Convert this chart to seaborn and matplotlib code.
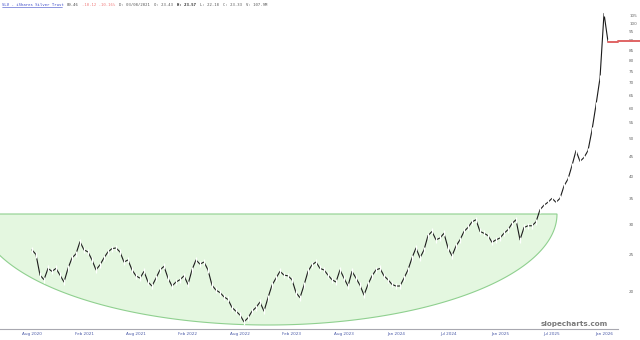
import numpy as np
import pandas as pd
import matplotlib
matplotlib.use("Agg")
import matplotlib.pyplot as plt
import seaborn as sns

# ---- data (bi-weekly closes of SLV) ----
closes = [25.7, 25.0, 22.1, 21.5, 23.0, 22.6, 23.0, 22.1, 21.2, 23.0,
          24.5, 25.1, 27.0, 25.7, 25.4, 24.2, 22.8, 23.5, 24.5, 25.4,
          25.9, 26.0, 25.4, 23.9, 24.2, 22.8, 22.0, 21.7, 22.6, 21.2,
          20.7, 21.7, 22.8, 23.3, 21.7, 20.7, 21.2, 21.5, 22.0, 20.9,
          22.8, 24.2, 23.6, 23.9, 22.8, 20.8, 20.2, 19.9, 19.4, 19.1,
          18.2, 17.8, 17.4, 16.7, 17.1, 17.8, 18.2, 18.8, 17.8, 19.3,
          20.8, 21.7, 22.6, 22.1, 22.0, 21.5, 19.9, 19.3, 20.8, 22.6,
          23.5, 23.9, 23.0, 22.8, 22.1, 21.5, 21.2, 22.8, 21.7, 20.7,
          22.6, 21.7, 20.8, 19.6, 20.9, 22.0, 22.8, 23.0, 22.0, 21.5,
          20.9, 20.7, 20.7, 21.7, 22.8, 24.5, 26.0, 24.5, 25.7, 28.0,
          28.7, 27.3, 27.6, 28.4, 26.0, 24.8, 26.3, 27.3, 28.7, 29.4,
          30.4, 30.8, 28.7, 28.4, 28.0, 26.9, 27.3, 27.6, 28.4, 29.0,
          30.1, 30.8, 27.3, 29.4, 29.7, 29.7, 30.4, 32.7, 33.6, 34.2,
          35.0, 34.2, 35.0, 37.7, 39.3, 42.6, 46.6, 43.7, 44.7, 46.6,
          52.7, 61.3, 72.0, 106.0, 89.46]
tick_labels = ["Aug 2020", "Feb 2021", "Aug 2021", "Feb 2022", "Aug 2022",
               "Feb 2023", "Aug 2023", "Jan 2024", "Jul 2024", "Jan 2025",
               "Jul 2025", "Jan 2026"]
tick_index = [0, 13, 26, 39, 52, 65, 78, 91, 104, 117, 130, 143]
price_ticks = [20, 25, 30, 35, 40, 45, 50, 55, 60, 65, 70, 75, 80, 85, 90,
               95, 100, 105]
last_price = 89.46

df = pd.DataFrame({"i": np.arange(len(closes)), "close": closes})

sns.set_style("white")
plt.rcParams["font.family"] = ["DejaVu Sans"]

W, H = 640, 340
fig = plt.figure(figsize=(W / 100, H / 100), dpi=100)
ax = fig.add_axes([0, 11 / H, 618 / W, 1 - 11 / H])

# green rounded-bottom zone (drawn in figure pixel space)
cx, cy, a, b = 268, 214, 289, 111
th = np.linspace(0, np.pi, 200)
px = np.concatenate([cx + a * np.cos(th), [cx - a, cx + a]])
py = np.concatenate([cy + b * np.sin(th), [cy, cy]])
poly = plt.Polygon(np.column_stack([px / W, 1 - py / H]), closed=True,
                   transform=fig.transFigure, facecolor="#e4f7e0",
                   edgecolor="#8fd08f", linewidth=0.8, zorder=1)
ax.add_patch(poly)
poly.set_clip_path(ax.patch)

sns.lineplot(data=df, x="i", y="close", ax=ax, color="#1a1a1a",
             linewidth=0.8, marker="|", markersize=4, markeredgewidth=0.9,
             zorder=3)

ax.set_yscale("log")
ax.set_ylim(16.0, 114.9)
ax.set_xlim(-8, 146.5)
ax.yaxis.tick_right()
ax.yaxis.set_major_locator(matplotlib.ticker.FixedLocator(price_ticks))
ax.yaxis.set_minor_locator(matplotlib.ticker.NullLocator())
ax.set_yticklabels([str(v) for v in price_ticks])
ax.set_xticks(tick_index)
ax.set_xticklabels(tick_labels)
ax.tick_params(axis="y", length=0, labelsize=3, labelcolor="#666666", pad=8)
ax.tick_params(axis="x", length=0, labelsize=3, labelcolor="#4a5aa8", pad=2)
ax.set_xlabel("")
ax.set_ylabel("")
for s in ["top", "left", "right"]:
    ax.spines[s].set_visible(False)
ax.spines["bottom"].set_color("#a8a8b0")
ax.spines["bottom"].set_linewidth(0.8)

# last price marker line
ax.plot([144, 146.5], [last_price, last_price], color="#e06464",
        linewidth=1.4, zorder=4, clip_on=False)
fig.add_artist(plt.Line2D([618 / W, 1], [1 - 41 / H, 1 - 41 / H],
                          color="#e06464", linewidth=1.4))

# header, laid out by character cells of a monospace font
fs = 2.75
cw = 0.602 * fs * 100 / 72  # pixel width of one character
y0 = 1 - 4.5 / H
hdr = [("SLV - iShares Silver Trust", "#3a48c8", "normal"),
       ("89.46", "#444444", "normal"),
       ("-10.12 -10.16%", "#f07a7a", "normal"),
       ("D: 03/08/2021", "#555555", "normal"),
       ("O: 23.43", "#555555", "normal"),
       ("H: 23.57", "#222222", "bold"),
       ("L: 22.18", "#555555", "normal"),
       ("C: 23.33", "#555555", "normal"),
       ("V: 107.9M", "#555555", "normal")]
pos = 0
for txt, col, wt in hdr:
    x = 2 + pos * cw
    fig.text(x / W, y0, txt, color=col, fontsize=fs, va="center",
             ha="left", family="DejaVu Sans Mono", fontweight=wt)
    if pos == 0:
        fig.add_artist(plt.Line2D([x / W, (x + len(txt) * cw) / W],
                                  [y0 - 2.3 / H, y0 - 2.3 / H],
                                  color="#3a48c8", linewidth=0.4))
    pos += len(txt) + 2

fig.text(608 / W, 1 - 324 / H, "slopecharts.com", color="#7a7a7a",
         fontsize=5.2, ha="right", va="center", fontweight="bold")

fig.savefig("out.png", dpi=100)
